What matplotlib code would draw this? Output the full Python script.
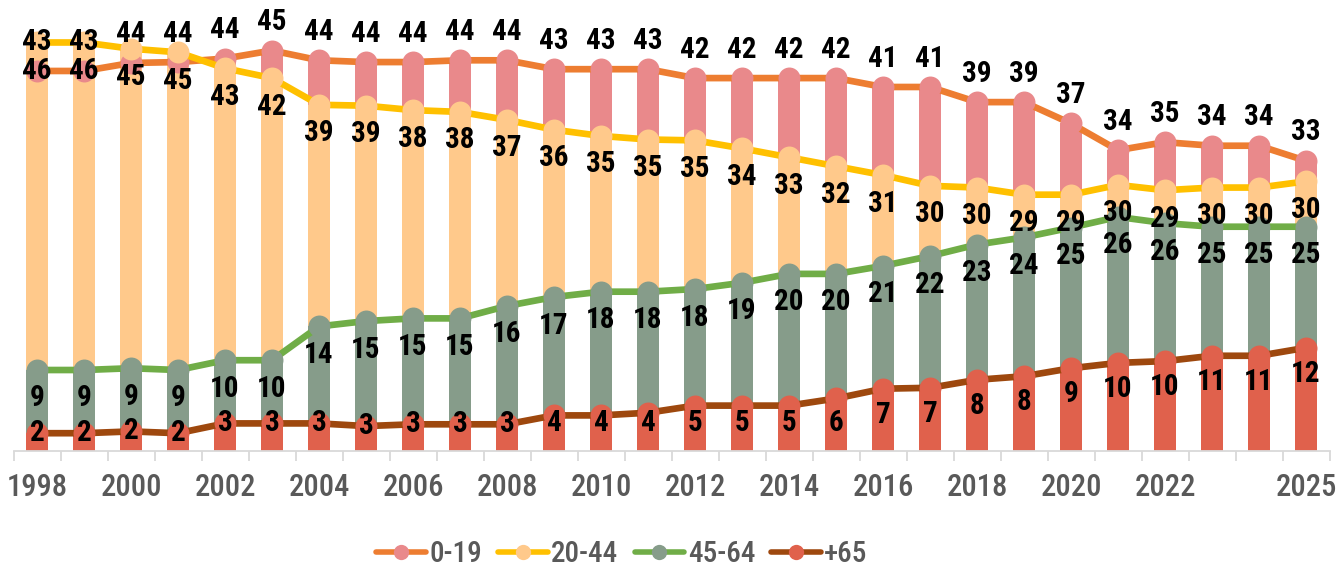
import matplotlib
matplotlib.use("Agg")
import matplotlib.pyplot as plt
from matplotlib.lines import Line2D

years = list(range(1998, 2026))
tick_years = [1998, 2000, 2002, 2004, 2006, 2008, 2010, 2012, 2014, 2016, 2018, 2020, 2022, 2025]

age_0_19 = [42.7, 42.7, 43.6, 43.7, 44.1, 45.0, 43.9, 43.7, 43.7, 43.9, 43.9, 42.9, 42.9, 42.9,
            41.9, 41.9, 41.9, 41.9, 40.9, 40.9, 39.2, 39.2, 36.8, 33.8, 34.7, 34.3, 34.3, 32.6]
age_20_44 = [45.9, 45.9, 45.2, 44.8, 43.0, 41.9, 38.9, 38.8, 38.3, 38.1, 37.2, 36.1, 35.4, 35.0,
             34.9, 34.0, 33.0, 32.0, 31.0, 29.8, 29.6, 28.8, 28.8, 29.9, 29.3, 29.6, 29.6, 30.3]
age_45_64 = [9.1, 9.1, 9.3, 9.1, 10.2, 10.2, 14.0, 14.6, 14.9, 14.9, 16.3, 17.3, 17.9, 17.9,
             18.2, 18.9, 19.9, 19.9, 20.8, 21.9, 23.2, 24.0, 25.1, 26.3, 25.6, 25.2, 25.2, 25.2]
age_65 = [2.0, 2.0, 2.2, 2.0, 3.1, 3.1, 3.1, 2.8, 3.0, 3.0, 3.0, 4.0, 4.0, 4.3,
          5.1, 5.1, 5.1, 5.9, 7.0, 7.1, 8.0, 8.4, 9.3, 9.9, 10.1, 10.7, 10.7, 11.6]

series = ["0-19", "20-44", "45-64", "+65"]
line_colors = ["#ED7D31", "#FFC000", "#70AD47", "#9E480E"]
bar_colors = ["#E9898B", "#FFC98B", "#869C8A", "#E0614C"]

# condensed font, falls back if missing
plt.rcParams['font.family'] = ['Roboto Condensed', 'IBM Plex Sans Condensed',
                               'Liberation Sans Narrow', 'DejaVu Sans']

fig = plt.figure(figsize=(13.36, 5.71), dpi=100)
ax = fig.add_axes([13.5 / 1336, 120 / 571, 1316 / 1336, 431 / 571])

x = list(range(len(years)))
data = [age_0_19, age_20_44, age_45_64, age_65]

### bars ###
for i, vals in enumerate(data):
    ax.bar(x, vals, width=0.47, color=bar_colors[i], zorder=1 + i * 0.1)

### lines + markers ###
for i, vals in enumerate(data):
    ax.plot(x, vals, color=line_colors[i], lw=4.8, zorder=3 + i,
            solid_capstyle='butt', clip_on=False)
    ax.plot(x, vals, 'o', color=bar_colors[i], ms=15.8, mew=0, zorder=3.5 + i, clip_on=False)

### labels ###
off = 3.2
lab = dict(ha='center', va='center', fontsize=21, weight='bold', color='black',
           zorder=20, clip_on=False)
for j in x:
    ax.text(j, age_0_19[j] + off, f"{age_0_19[j]:.0f}", **lab)
    ax.text(j, age_20_44[j] - off, f"{age_20_44[j]:.0f}", **lab)
    ax.text(j, age_45_64[j] - off, f"{age_45_64[j]:.0f}", **lab)
    y65 = min(max(age_65[j] - 2.9, 3.1), age_65[j])
    ax.text(j, y65, f"{age_65[j]:.0f}", **lab)

ax.set_xlim(-0.5, len(years) - 0.5)
ax.set_ylim(0, 431 / 8.9)

for s in ['top', 'right', 'left']:
    ax.spines[s].set_visible(False)
ax.spines['bottom'].set_color('#D9D9D9')
ax.spines['bottom'].set_linewidth(1.3)
ax.set_yticks([])

ax.set_xticks([years.index(y) for y in tick_years])
ax.set_xticklabels([str(y) for y in tick_years], fontsize=22, color='#595959', weight=500)
ax.set_xticks([k - 0.5 for k in range(len(years) + 1)], minor=True)
ax.tick_params(axis='x', which='major', length=0, pad=16)
ax.tick_params(axis='x', which='minor', length=7, width=1.3, color='#D9D9D9')

handles = [Line2D([0], [0], color=line_colors[i], lw=4, solid_capstyle='round',
                  marker='o', ms=11, mfc=bar_colors[i], mew=0) for i in range(4)]
leg = fig.legend(handles, series, loc='center', bbox_to_anchor=(622 / 1336, 1 - 554 / 571),
                 ncol=4, frameon=False, fontsize=21, labelcolor='#595959', handlelength=1.7,
                 handletextpad=0.12, columnspacing=0.55, borderpad=0.1)
for t in leg.get_texts():
    t.set_fontweight(500)

plt.savefig("out.png", dpi=100)
